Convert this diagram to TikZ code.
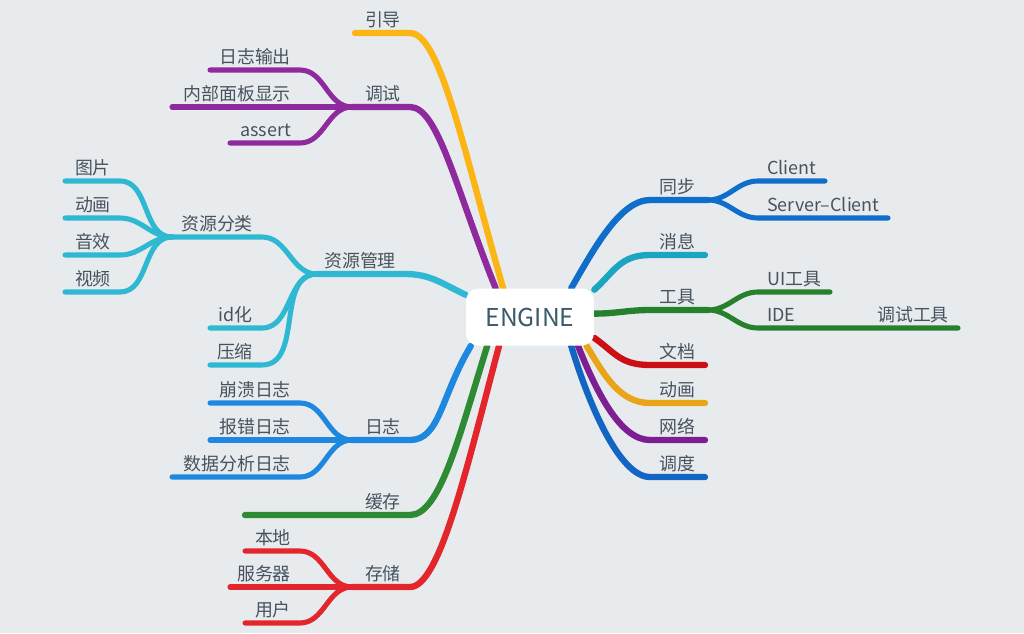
\documentclass[tikz,border=0pt]{standalone}
\usepackage{fontspec}
\setmainfont{Noto Sans CJK SC}
\usetikzlibrary{positioning}

\definecolor{bgcol}{HTML}{E8EBEE}
\definecolor{txtcol}{HTML}{46535E}
\definecolor{enginecol}{HTML}{3B5A6A}
\definecolor{cyindao}{HTML}{FBB616}
\definecolor{ctiaoshi}{HTML}{8E2A9E}
\definecolor{cziyuan}{HTML}{2EB8D2}
\definecolor{crizhi}{HTML}{1E88E0}
\definecolor{chuancun}{HTML}{2E8B34}
\definecolor{ccunchu}{HTML}{E3262B}
\definecolor{ctongbu}{HTML}{0E6EC9}
\definecolor{cxiaoxi}{HTML}{1AA5C0}
\definecolor{cgongju}{HTML}{27802B}
\definecolor{cwendang}{HTML}{CC0E15}
\definecolor{cdonghua}{HTML}{E9A418}
\definecolor{cwangluo}{HTML}{7D1E92}
\definecolor{cdiaodu}{HTML}{1265C2}

\pgfdeclarelayer{back}
\pgfsetlayers{back,main}

\tikzset{
  topic/.style={font=\fontsize{10.2}{12}\selectfont, text=txtcol, inner sep=0pt,
    text height=0.88em, text depth=0.15em},
  branch/.style={line width=3.6pt, line cap=round},
  twig/.style={line width=2.9pt, line cap=round},
}

\begin{document}
\begin{tikzpicture}[x=0.02cm, y=-0.02cm, node distance=2pt and 5pt]
  \begin{pgfonlayer}{back}
    \fill[bgcol] (0,0) rectangle (1024,633);
  \end{pgfonlayer}
  \useasboundingbox (0,0) rectangle (1024,633);

  \node[fill=white, rounded corners=7pt, minimum width=2.56cm, minimum height=1.14cm,
    font=\fontsize{14}{16}\selectfont, text=enginecol] (engine) at (530,317) {ENGINE};

  % left side
  \coordinate (yd-l) at (355,33);  \coordinate (yd-r) at (410,33);
  \coordinate (ts-j) at (352,107); \coordinate (ts-r) at (410,107);
  \coordinate (rz-l) at (210,70);  \coordinate (rz-r) at (300,70);
  \coordinate (nb-l) at (172,107); \coordinate (nb-r) at (300,107);
  \coordinate (as-l) at (230,143); \coordinate (as-r) at (300,143);

  \coordinate (zy-j) at (317,274); \coordinate (zy-r) at (405,274);
  \coordinate (fl-j) at (172,237); \coordinate (fl-r) at (262,237);
  \coordinate (tp-l) at (65,181);  \coordinate (tp-r) at (120,181);
  \coordinate (dh-l) at (65,218);  \coordinate (dh-r) at (120,218);
  \coordinate (yx-l) at (65,255);  \coordinate (yx-r) at (120,255);
  \coordinate (sp-l) at (65,292);  \coordinate (sp-r) at (120,292);
  \coordinate (id-l) at (210,328); \coordinate (id-r) at (262,328);
  \coordinate (ys-l) at (210,365); \coordinate (ys-r) at (262,365);

  \coordinate (rzh-j) at (352,440); \coordinate (rzh-r) at (410,440);
  \coordinate (bk-l) at (210,403); \coordinate (bk-r) at (300,403);
  \coordinate (bc-l) at (210,440); \coordinate (bc-r) at (300,440);
  \coordinate (sj-l) at (172,477); \coordinate (sj-r) at (300,477);

  \coordinate (hc-l) at (245,515); \coordinate (hc-r) at (410,515);

  \coordinate (cc-j) at (352,587); \coordinate (cc-r) at (410,587);
  \coordinate (bd-l) at (245,551); \coordinate (bd-r) at (300,551);
  \coordinate (fw-l) at (230,587); \coordinate (fw-r) at (300,587);
  \coordinate (yh-l) at (245,623); \coordinate (yh-r) at (300,623);

  % right side
  \coordinate (tb-l) at (650,200); \coordinate (tb-j) at (708,200);
  \coordinate (cl-l) at (758,181); \coordinate (cl-r) at (825,181);
  \coordinate (sc-l) at (758,218); \coordinate (sc-r) at (888,218);
  \coordinate (xx-l) at (650,255); \coordinate (xx-r) at (705,255);
  \coordinate (gj-l) at (650,310); \coordinate (gj-j) at (708,310);
  \coordinate (ui-l) at (758,292); \coordinate (ui-r) at (830,292);
  \coordinate (ide-l) at (758,328); \coordinate (ide-r) at (812,328);
  \coordinate (tsg-r) at (958,328);
  \coordinate (wd-l) at (650,365); \coordinate (wd-r) at (705,365);
  \coordinate (dhr-l) at (650,403); \coordinate (dhr-r) at (705,403);
  \coordinate (wl-l) at (650,440); \coordinate (wl-r) at (705,440);
  \coordinate (dd-l) at (650,477); \coordinate (dd-r) at (705,477);

  % labels
  \node[topic, above left=of yd-r]  (yindao)   {引导};
  \node[topic, above left=of ts-r]  (tiaoshi)  {调试};
  \node[topic, above left=of rz-r]  (rzshuchu) {日志输出};
  \node[topic, above left=of nb-r]  (neibu)    {内部面板显示};
  \node[topic, above left=of as-r]  (assert)   {assert};
  \node[topic, above left=of zy-r]  (ziyuan)   {资源管理};
  \node[topic, above left=of fl-r]  (fenlei)   {资源分类};
  \node[topic, above left=of tp-r]  (tupian)   {图片};
  \node[topic, above left=of dh-r]  (donghua)  {动画};
  \node[topic, above left=of yx-r]  (yinxiao)  {音效};
  \node[topic, above left=of sp-r]  (shipin)   {视频};
  \node[topic, above left=of id-r]  (idhua)    {id化};
  \node[topic, above left=of ys-r]  (yasuo)    {压缩};
  \node[topic, above left=of rzh-r] (rizhi)    {日志};
  \node[topic, above left=of bk-r]  (bengkui)  {崩溃日志};
  \node[topic, above left=of bc-r]  (baocuo)   {报错日志};
  \node[topic, above left=of sj-r]  (shuju)    {数据分析日志};
  \node[topic, above left=of hc-r]  (huancun)  {缓存};
  \node[topic, above left=of cc-r]  (cunchu)   {存储};
  \node[topic, above left=of bd-r]  (bendi)    {本地};
  \node[topic, above left=of fw-r]  (fuwuqi)   {服务器};
  \node[topic, above left=of yh-r]  (yonghu)   {用户};

  \node[topic, above right=of tb-l]  (tongbu)   {同步};
  \node[topic, above right=of cl-l]  (client)   {Client};
  \node[topic, above right=of sc-l]  (server)   {Server–Client};
  \node[topic, above right=of xx-l]  (xiaoxi)   {消息};
  \node[topic, above right=of gj-l]  (gongju)   {工具};
  \node[topic, above right=of ui-l]  (uigongju) {UI工具};
  \node[topic, above right=of ide-l] (ide)      {IDE};
  \node[topic, above left=of tsg-r]  (tsgongju) {调试工具};
  \node[topic, above right=of wd-l]  (wendang)  {文档};
  \node[topic, above right=of dhr-l] (donghuar) {动画};
  \node[topic, above right=of wl-l]  (wangluo)  {网络};
  \node[topic, above right=of dd-l]  (diaodu)   {调度};

  \begin{pgfonlayer}{back}
    % left branches
    \draw[branch, cyindao] (yd-l) -- (yd-r) .. controls +(30,0) and +(-40,-140) .. (engine.133);

    \draw[branch, ctiaoshi] (ts-j) -- (ts-r) .. controls +(28,0) and +(-40,-100) .. (engine.140);
    \draw[twig, ctiaoshi] (rz-l) -- (rz-r) to[out=0, in=180] (ts-j);
    \draw[twig, ctiaoshi] (nb-l) -- (nb-r) -- (ts-j);
    \draw[twig, ctiaoshi] (as-l) -- (as-r) to[out=0, in=180] (ts-j);

    \draw[branch, cziyuan] (zy-j) -- (zy-r) .. controls +(25,0) and +(-25,-12) .. (engine.161);
    \draw[twig, cziyuan] (fl-j) -- (fl-r) to[out=0, in=180] (zy-j);
    \draw[twig, cziyuan] (tp-l) -- (tp-r) to[out=0, in=180] (fl-j);
    \draw[twig, cziyuan] (dh-l) -- (dh-r) to[out=0, in=180] (fl-j);
    \draw[twig, cziyuan] (yx-l) -- (yx-r) to[out=0, in=180] (fl-j);
    \draw[twig, cziyuan] (sp-l) -- (sp-r) to[out=0, in=180] (fl-j);
    \draw[twig, cziyuan] (id-l) -- (id-r) to[out=0, in=180] (zy-j);
    \draw[twig, cziyuan] (ys-l) -- (ys-r) to[out=0, in=180] (zy-j);

    \draw[branch, crizhi] (rzh-j) -- (rzh-r) .. controls +(30,0) and +(-30,50) .. (engine.206);
    \draw[twig, crizhi] (bk-l) -- (bk-r) to[out=0, in=180] (rzh-j);
    \draw[twig, crizhi] (bc-l) -- (bc-r) -- (rzh-j);
    \draw[twig, crizhi] (sj-l) -- (sj-r) to[out=0, in=180] (rzh-j);

    \draw[branch, chuancun] (hc-l) -- (hc-r) .. controls +(30,0) and +(-28,90) .. (engine.214);

    \draw[branch, ccunchu] (cc-j) -- (cc-r) .. controls +(30,0) and +(-32,120) .. (engine.223);
    \draw[twig, ccunchu] (bd-l) -- (bd-r) to[out=0, in=180] (cc-j);
    \draw[twig, ccunchu] (fw-l) -- (fw-r) -- (cc-j);
    \draw[twig, ccunchu] (yh-l) -- (yh-r) to[out=0, in=180] (cc-j);

    % right branches
    \draw[branch, ctongbu] (engine.35) .. controls +(22,-38) and +(-30,0) .. (tb-l) -- (tb-j);
    \draw[twig, ctongbu] (tb-j) to[out=0, in=180] (cl-l) -- (cl-r);
    \draw[twig, ctongbu] (tb-j) to[out=0, in=180] (sc-l) -- (sc-r);

    \draw[branch, cxiaoxi] (engine.23) .. controls +(20,-18) and +(-30,0) .. (xx-l) -- (xx-r);

    \draw[branch, cgongju] (engine.3) to[out=0, in=180] (gj-l) -- (gj-j);
    \draw[twig, cgongju] (gj-j) to[out=0, in=180] (ui-l) -- (ui-r);
    \draw[twig, cgongju] (gj-j) to[out=0, in=180] (ide-l) -- (ide-r) -- (tsg-r);

    \draw[branch, cwendang] (engine.342) .. controls +(20,14) and +(-30,0) .. (wd-l) -- (wd-r);
    \draw[branch, cdonghua] (engine.333) .. controls +(18,30) and +(-30,0) .. (dhr-l) -- (dhr-r);
    \draw[branch, cwangluo] (engine.329) .. controls +(18,45) and +(-30,0) .. (wl-l) -- (wl-r);
    \draw[branch, cdiaodu] (engine.325) .. controls +(18,60) and +(-30,0) .. (dd-l) -- (dd-r);
  \end{pgfonlayer}
\end{tikzpicture}
\end{document}
